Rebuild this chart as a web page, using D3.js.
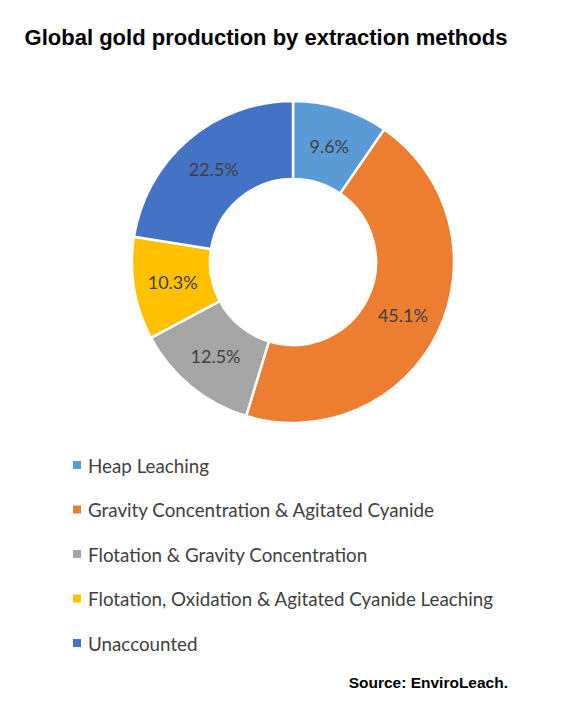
<!DOCTYPE html>
<html><head><meta charset="utf-8">
<script src="https://cdn.jsdelivr.net/npm/d3@7"></script>
<style>html,body{margin:0;padding:0;background:#fff;}</style>
</head><body>
<svg id="chart" width="567" height="707"></svg>
<script>
const categories = ["Heap Leaching","Gravity Concentration & Agitated Cyanide","Flotation & Gravity Concentration","Flotation, Oxidation & Agitated Cyanide Leaching","Unaccounted"];
const values = [9.6, 45.1, 12.5, 10.3, 22.5];
const colors = ["#5B9BD5","#ED7D31","#A5A5A5","#FFC000","#4472C4"];
const title = "Global gold production by extraction methods";
const source = "Source: EnviroLeach.";

const svg = d3.select("#chart");
const cx = 293, cy = 262, rIn = 83, rOut = 161;
const labelFont = "Lato, 'Open Sans', sans-serif";

svg.append("text").attr("x", 266).attr("y", 45).attr("text-anchor","middle")
  .attr("font-family","'Liberation Sans', Arial, sans-serif").attr("font-weight","bold")
  .attr("font-size",22).attr("fill","#000").text(title);

const data = categories.map((c,i)=>({cat:c, value:values[i], color:colors[i]}));
const pie = d3.pie().sort(null).value(d=>d.value);
const arc = d3.arc().innerRadius(rIn).outerRadius(rOut);
const g = svg.append("g").attr("transform",`translate(${cx},${cy})`);
const arcs = pie(data);
g.selectAll("path").data(arcs).join("path")
  .attr("d",arc).attr("fill",d=>d.data.color)
  .attr("stroke","#fff").attr("stroke-width",2.5);
g.selectAll("text").data(arcs).join("text")
  .attr("transform",d=>`translate(${arc.centroid(d)})`)
  .attr("text-anchor","middle").attr("dominant-baseline","central")
  .attr("font-family",labelFont).attr("font-size",18).attr("fill","#404040")
  .text(d=>d.data.value.toFixed(1)+"%");

const legY = d3.scalePoint().domain(categories).range([465, 643]);
const leg = svg.append("g");
const rows = leg.selectAll("g").data(data).join("g")
  .attr("transform",d=>`translate(0,${legY(d.cat)})`);
rows.append("rect").attr("x",73).attr("y",-4).attr("width",8).attr("height",8).attr("fill",d=>d.color);
rows.append("text").attr("x",88).attr("y",0).attr("dominant-baseline","central")
  .attr("font-family",labelFont).attr("font-size",18.8).attr("fill","#404040").text(d=>d.cat);

svg.append("text").attr("x",508).attr("y",688).attr("text-anchor","end")
  .attr("font-family","'Liberation Sans', Arial, sans-serif").attr("font-weight","bold")
  .attr("font-size",15.5).attr("fill","#000").text(source);
</script>
</body></html>
